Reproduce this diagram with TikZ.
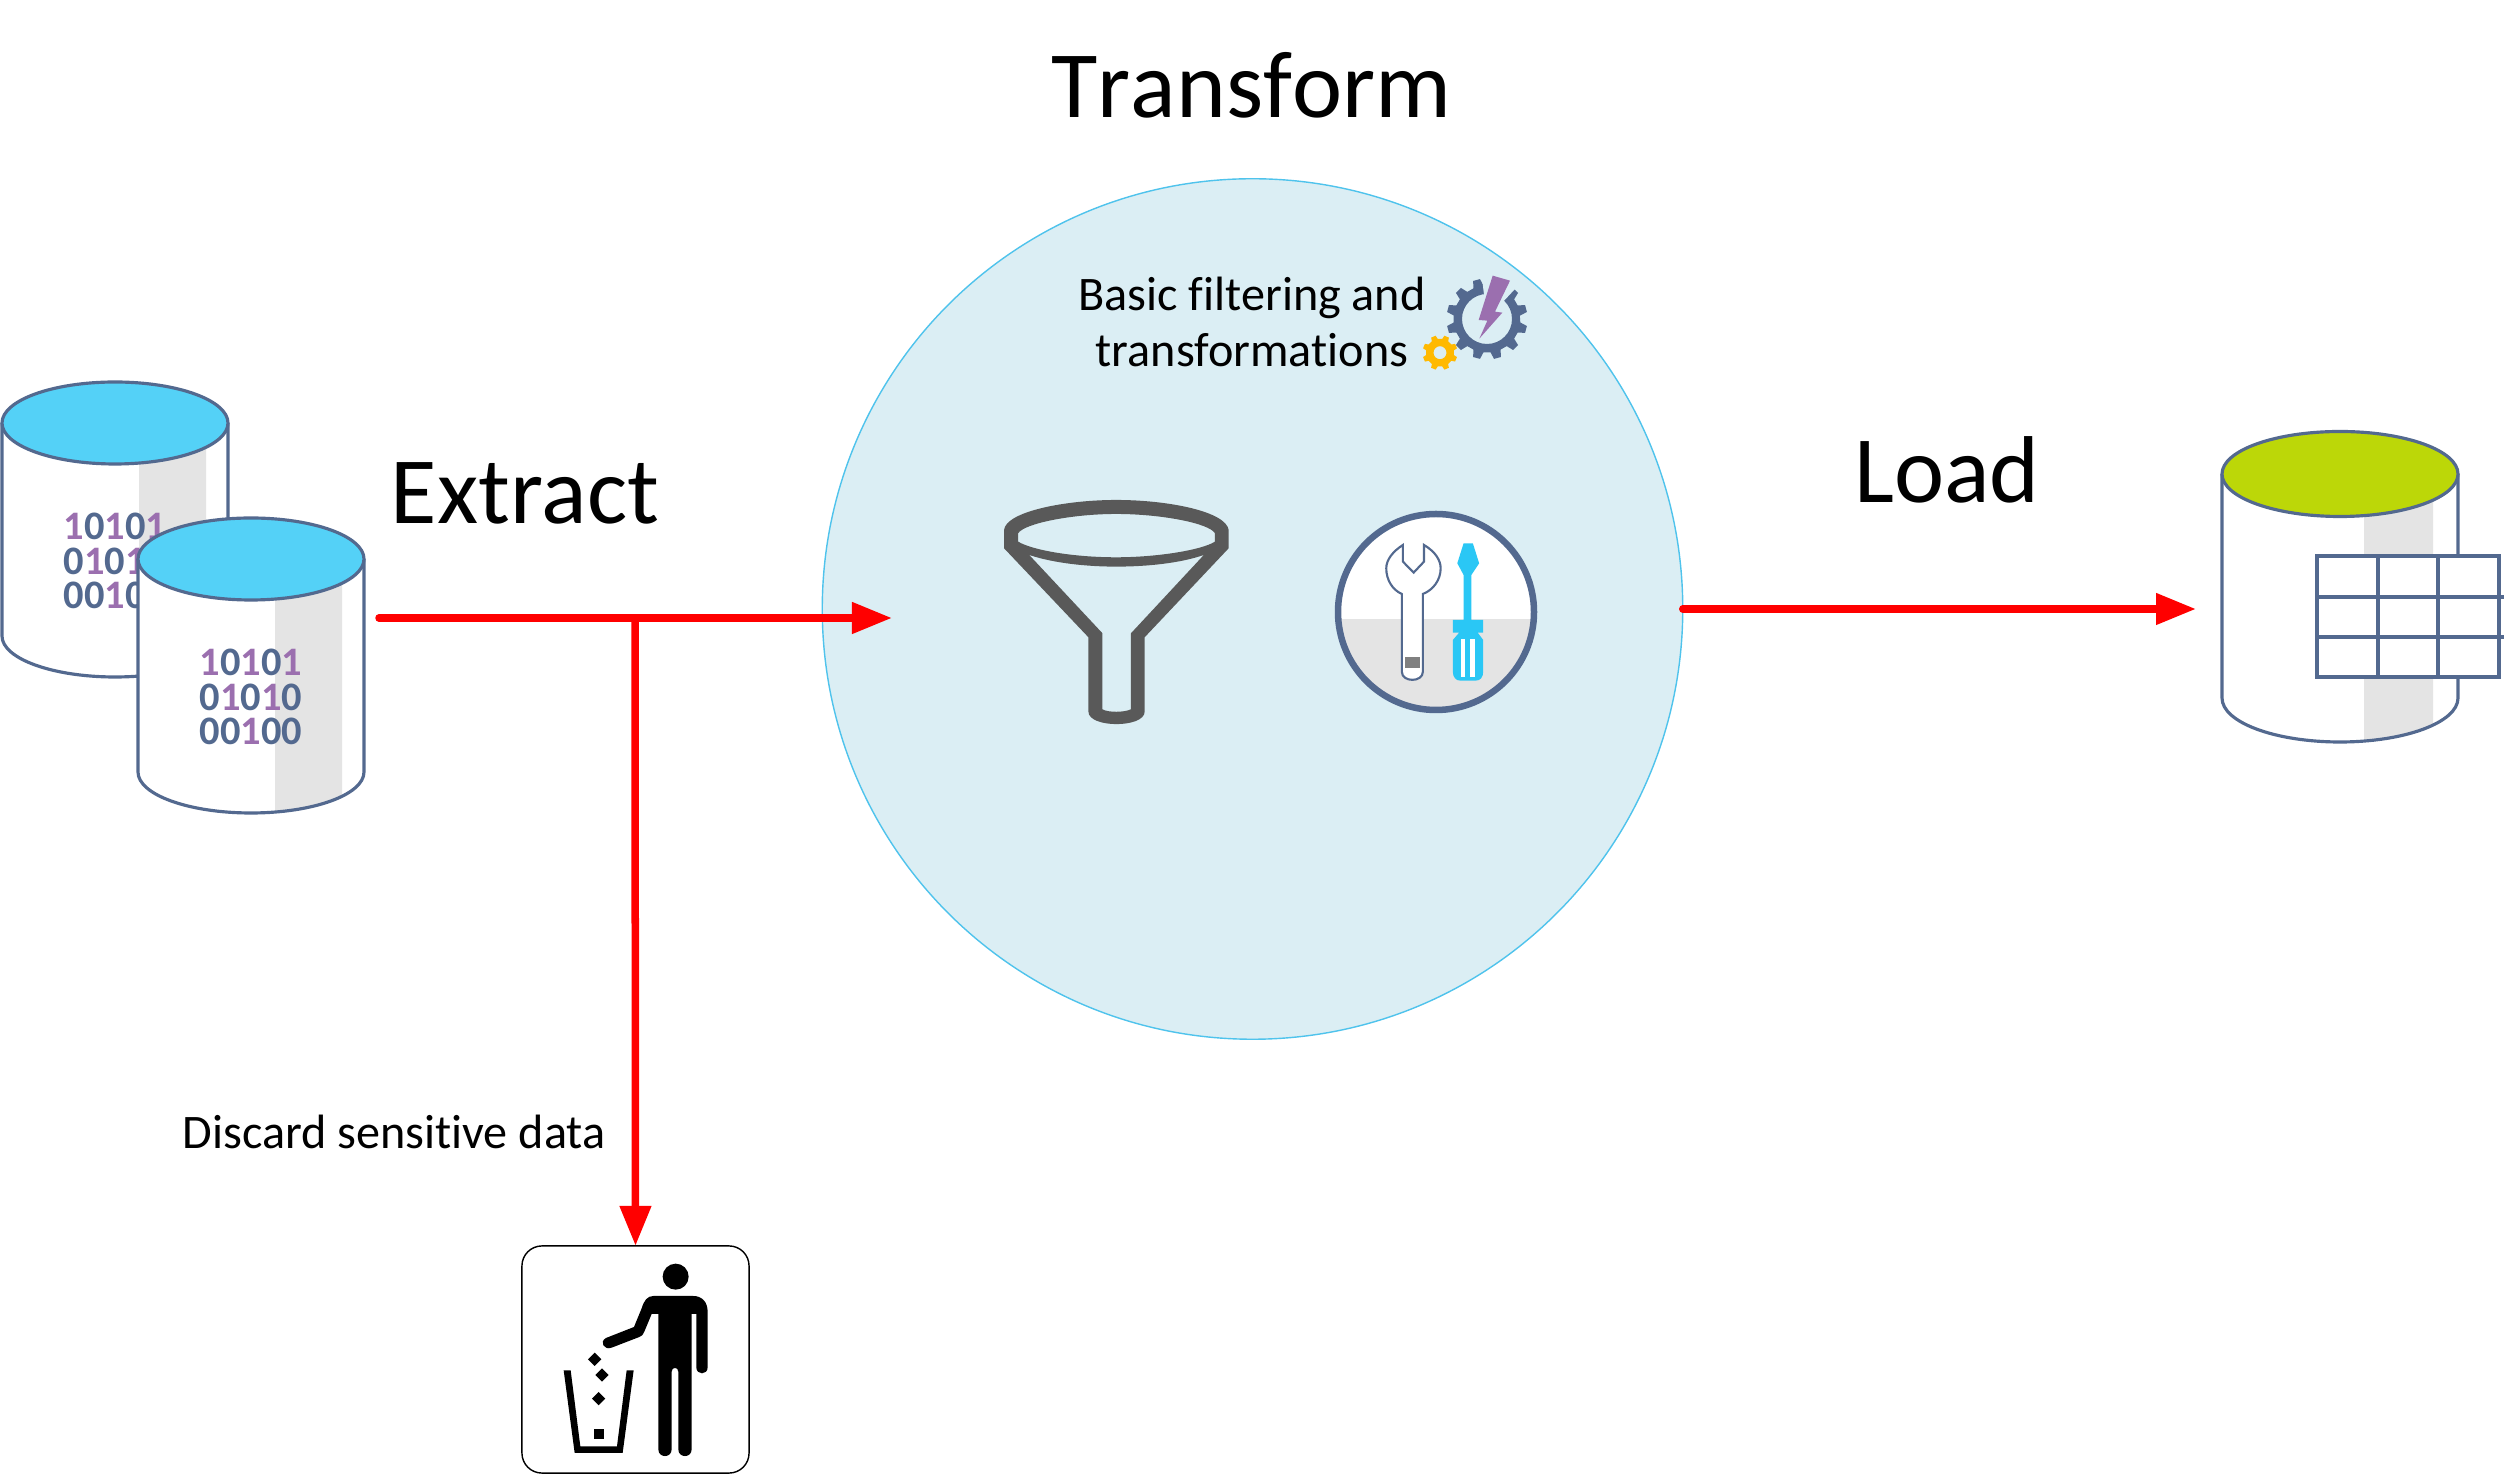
\documentclass[tikz,border=0pt]{standalone}
\usepackage{fontspec}
\setmainfont[Ligatures=NoCommon]{Carlito}
\usetikzlibrary{arrows.meta}
\definecolor{slateline}{HTML}{53698F}
\definecolor{topblue}{HTML}{54D1F7}
\definecolor{toplime}{HTML}{BCD708}
\definecolor{stripegrey}{HTML}{E4E4E4}
\definecolor{bitpurple}{HTML}{9B6FAF}
\definecolor{paleblue}{HTML}{DBEEF4}
\definecolor{rimblue}{HTML}{4FC3EC}
\definecolor{funnelgrey}{HTML}{595959}
\definecolor{driverblue}{HTML}{2AC7F5}
\definecolor{cogorange}{HTML}{FFB900}
\newcommand{\pbit}{\textcolor{bitpurple}{1}}
\tikzset{
    redarrow/.style={draw=red,line width=0.075cm,line cap=round,-{Triangle[length=0.4cm,width=0.3cm]}},
    steptitle/.style={font=\fontsize{27}{32}\selectfont,inner sep=0pt},
    smalltext/.style={font=\fontsize{13.7}{16}\selectfont,inner sep=0pt,align=center},
    bitstext/.style={font=\fontsize{11.5}{9.8}\selectfont\bfseries,text=slateline,inner sep=0pt,align=center},
    cylline/.style={draw=slateline,line width=0.9pt}
}
\begin{document}
\begin{tikzpicture}[x=0.01cm,y=-0.01cm]
    \useasboundingbox (0,0) rectangle (2506,1474);
    \node[circle,fill=paleblue,draw=rimblue,line width=0.4pt,minimum size=8.6cm,outer sep=0pt,inner sep=0pt] (transformcircle) at (1252.5,609) {};

    \foreach \cx/\cy in {115/423,251/559} {
        \begin{scope}[shift={(\cx,\cy)}]
            \fill[white] (-113,0) -- (-113,213) arc[start angle=180,end angle=0,x radius=113,y radius=41] -- (113,0) -- cycle;
            \fill[stripegrey] (24,0) -- (91,0) -- (91,237) .. controls (70,245) and (45,251) .. (24,253) -- cycle;
            \draw[cylline] (-113,0) -- (-113,213) arc[start angle=180,end angle=0,x radius=113,y radius=41] -- (113,0);
            \draw[cylline,fill=topblue] (0,0) ellipse[x radius=113,y radius=41];
            \node[bitstext] (bits\cx) at (0,138) {\pbit0\pbit0\pbit\\0\pbit0\pbit0\\00\pbit00};
        \end{scope}
    }

    \begin{scope}[shift={(2340,474)}]
        \fill[white] (-118,0) -- (-118,224) arc[start angle=180,end angle=0,x radius=118,y radius=44] -- (118,0) -- cycle;
        \fill[stripegrey] (24,0) -- (93,0) -- (93,252) .. controls (72,260) and (45,266) .. (24,268) -- cycle;
        \draw[cylline] (-118,0) -- (-118,224) arc[start angle=180,end angle=0,x radius=118,y radius=44] -- (118,0);
        \draw[cylline,fill=toplime] (0,0) ellipse[x radius=118,y radius=42.5];
    \end{scope}
    \draw[cylline,fill=white] (2317,556) rectangle (2499,677);
    \foreach \gx in {2378,2438} {
        \draw[cylline] (\gx,556) -- (\gx,677);
    }
    \foreach \gy in {597,637} {
        \draw[cylline] (2317,\gy) -- (2504,\gy);
    }

    \begin{scope}[shift={(980,240)},xscale=0.37,yscale=0.3333]
        \fill[funnelgrey,even odd rule] (65,870) .. controls (70,815) and (230,780) .. (368,780) .. controls (510,780) and (665,815) .. (672,870) -- (672,925) -- (445,1192) -- (445,1415) .. controls (445,1465) and (293,1465) .. (293,1415) -- (293,1192) -- (65,925) -- cycle
            (103,880) .. controls (120,850) and (250,822) .. (368,822) .. controls (490,822) and (620,850) .. (635,880) -- (635,905) .. controls (600,930) and (480,952) .. (368,952) .. controls (250,952) and (140,930) .. (103,905) -- cycle
            (133,945) .. controls (200,970) and (290,980) .. (368,980) .. controls (450,980) and (540,970) .. (605,945) -- (408,1180) -- (408,1408) .. controls (390,1418) and (345,1418) .. (331,1408) -- (331,1180) -- cycle;
    \end{scope}

    \fill[white] (1436,612) circle (98);
    \begin{scope}
        \clip (1436,612) circle (98);
        \fill[stripegrey] (1330,619) rectangle (1540,720);
    \end{scope}
    \draw[slateline,line width=0.065cm] (1436,612) circle (98);
    \begin{scope}[shift={(980,240)},xscale=0.37,yscale=0.3333]
        \draw[draw=slateline,fill=white,line width=0.6pt] (1143,915) -- (1143,965) -- (1172,998) -- (1200,965) -- (1200,915) .. controls (1230,935) and (1245,960) .. (1245,985) .. controls (1245,1020) and (1225,1050) .. (1197,1062) -- (1197,1295) .. controls (1197,1328) and (1140,1328) .. (1140,1295) -- (1140,1062) .. controls (1115,1050) and (1098,1020) .. (1098,985) .. controls (1098,960) and (1115,935) .. (1143,915) -- cycle;
        \fill[gray] (1148,1250) rectangle (1190,1285);
        \fill[driverblue] (1307,910) -- (1332,910) -- (1349,970) -- (1328,1005) -- (1328,1140) -- (1360,1140) -- (1360,1178) -- (1345,1178) -- (1360,1200) -- (1360,1295) .. controls (1360,1312) and (1352,1322) .. (1340,1322) -- (1298,1322) .. controls (1286,1322) and (1278,1312) .. (1278,1295) -- (1278,1200) -- (1295,1178) -- (1278,1178) -- (1278,1140) -- (1307,1140) -- (1307,1005) -- (1290,970) -- cycle;
        \fill[white] (1300,1198) rectangle (1312,1312);
        \fill[white] (1325,1198) rectangle (1337,1312);
    \end{scope}

    \begin{scope}[shift={(1487,319)},x=0.01cm,y=0.01cm]
        \fill[slateline,even odd rule] (6:33) \foreach \a in {15,45,...,345} { -- ({\a-9}:33.5) -- ({\a-5}:40.5) -- ({\a+5}:40.5) -- ({\a+9}:33.5) } -- cycle (0,0) circle (25);
        \fill[paleblue] (0,0) -- (47:43) -- (72:43) -- (97:43) -- cycle;
    \end{scope}
    \begin{scope}[shift={(1440,352.7)},x=0.01cm,y=0.01cm]
        \fill[cogorange,even odd rule] (10:14) \foreach \a in {22.5,67.5,...,337.5} { -- ({\a-13}:14) -- ({\a-8}:17.5) -- ({\a+8}:17.5) -- ({\a+13}:14) } -- cycle (0,0) circle (6.5);
    \end{scope}
    \begin{scope}[shift={(1400,260)},scale=0.3333]
        \fill[bitpurple] (278,47) -- (330,62) -- (285,155) -- (307,158) -- (238,236) -- (262,182) -- (236,180) -- cycle;
    \end{scope}

    \node[rounded corners=0.2cm,draw=black,line width=0.4pt,minimum width=2.27cm,minimum height=2.27cm,outer sep=0pt] (trashbox) at (635.5,1359.5) {};
    \begin{scope}[shift={(500,1230)},scale=0.3333]
        \fill (527,140) circle (39);
        \fill (460,198) -- (580,198) .. controls (605,198) and (623,215) .. (623,245) -- (623,412) .. controls (623,436) and (589,436) .. (589,412) -- (589,252) -- (575,252) -- (575,658) .. controls (575,685) and (535,685) .. (535,658) -- (535,425) .. controls (535,410) and (515,410) .. (515,425) -- (515,658) .. controls (515,685) and (475,685) .. (475,658) -- (475,252) -- (455,252) -- (433,305) .. controls (430,315) and (425,318) .. (418,321) -- (335,353) .. controls (312,362) and (297,335) .. (318,324) -- (402,291) -- (425,235) .. controls (432,212) and (442,198) .. (460,198) -- cycle;
        \foreach \dx/\dy in {284/388,306/435,296/506} {
            \fill (\dx-20,\dy) -- (\dx,\dy-20) -- (\dx+20,\dy) -- (\dx,\dy+20) -- cycle;
        }
        \fill (281,598) rectangle (311,628);
        \fill (191,421) -- (212,421) -- (241,649) -- (351,649) -- (380,421) -- (401,421) -- (368,669) -- (224,669) -- cycle;
    \end{scope}

    \coordinate (extractstart) at (379,618);
    \coordinate (extractend) at (892,618);
    \coordinate (branchpoint) at (635,618);
    \coordinate (loadend) at (2196,609);
    \draw[redarrow] (extractstart) -- (extractend);
    \draw[redarrow] (branchpoint) -- (trashbox.north);
    \draw[redarrow] (transformcircle.east) -- (loadend);

    \node[steptitle] (transformlabel) at (1251.5,85) {\addfontfeature{Kerning=Off}Transform};
    \node[steptitle] (extractlabel) at (525,493) {Extract};
    \node[steptitle] (loadlabel) at (1947,470) {Load};
    \node[smalltext] (basiclabel) at (1252,322) {Basic filtering and\\transformations};
    \node[smalltext] (discardlabel) at (394,1132) {Discard sensitive data};
\end{tikzpicture}
\end{document}
